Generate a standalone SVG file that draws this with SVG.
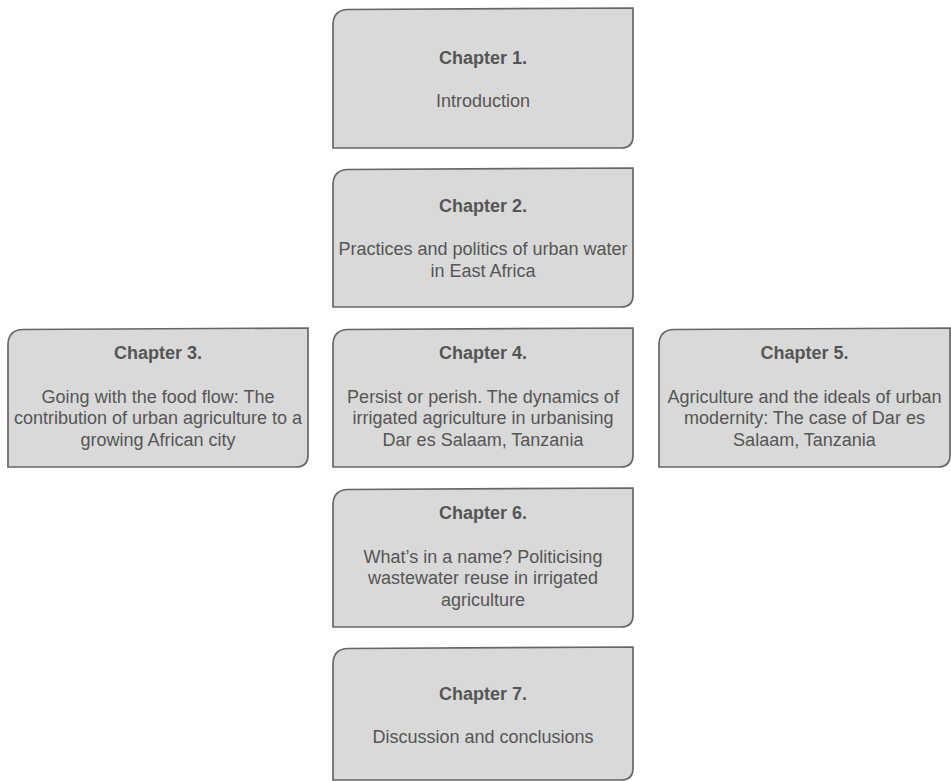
<svg xmlns="http://www.w3.org/2000/svg" width="951" height="781" viewBox="0 0 951 781">
<style>
.box{fill:#d9d9d9;stroke:#666;stroke-width:1.7;}
.t{font-family:"Liberation Sans",Arial,sans-serif;font-size:18px;fill:#555555;text-anchor:middle;}
.b{font-weight:bold;}
</style>
<rect width="951" height="781" fill="#ffffff"/>
<g id="connectors"></g>
<g id="ch1">
<path class="box" d="M333,25 Q333,10 348,9.5 L633,8 L633,136 Q633,148 621,148 L333,148 Z"/>
<text class="t b" x="483" y="63.5">Chapter 1.</text>
<text class="t" x="483" y="106.5">Introduction</text>
</g>
<g id="ch2">
<path class="box" d="M333,185 Q333,170 348,169.5 L633,168 L633,295 Q633,307 621,307 L333,307 Z"/>
<text class="t b" x="483" y="212">Chapter 2.</text>
<text class="t" x="483" y="255.4">Practices and politics of urban water</text>
<text class="t" x="483" y="277">in East Africa</text>
</g>
<g id="ch3">
<path class="box" d="M8,345 Q8,330 23,329.5 L308,328 L308,455 Q308,467 296,467 L8,467 Z"/>
<text class="t b" x="158" y="359">Chapter 3.</text>
<text class="t" x="158" y="403">Going with the food flow: The</text>
<text class="t" x="158" y="424.4">contribution of urban agriculture to a</text>
<text class="t" x="158" y="445.8">growing African city</text>
</g>
<g id="ch4">
<path class="box" d="M333,345 Q333,330 348,329.5 L633,328 L633,455 Q633,467 621,467 L333,467 Z"/>
<text class="t b" x="483" y="359">Chapter 4.</text>
<text class="t" x="483" y="403">Persist or perish. The dynamics of</text>
<text class="t" x="483" y="424.4">irrigated agriculture in urbanising</text>
<text class="t" x="483" y="445.8">Dar es Salaam, Tanzania</text>
</g>
<g id="ch5">
<path class="box" d="M659,345 Q659,330 674,329.5 L950,328 L950,455 Q950,467 938,467 L659,467 Z"/>
<text class="t b" x="804.5" y="359">Chapter 5.</text>
<text class="t" x="804.5" y="403">Agriculture and the ideals of urban</text>
<text class="t" x="804.5" y="424.4">modernity: The case of Dar es</text>
<text class="t" x="804.5" y="445.8">Salaam, Tanzania</text>
</g>
<g id="ch6">
<path class="box" d="M333,505 Q333,490 348,489.5 L633,488 L633,615 Q633,627 621,627 L333,627 Z"/>
<text class="t b" x="483" y="519">Chapter 6.</text>
<text class="t" x="483" y="563">What’s in a name? Politicising</text>
<text class="t" x="483" y="584.4">wastewater reuse in irrigated</text>
<text class="t" x="483" y="605.8">agriculture</text>
</g>
<g id="ch7">
<path class="box" d="M333,664 Q333,649 348,648.5 L633,647 L633,768 Q633,780 621,780 L333,780 Z"/>
<text class="t b" x="483" y="700">Chapter 7.</text>
<text class="t" x="483" y="743">Discussion and conclusions</text>
</g>
</svg>
